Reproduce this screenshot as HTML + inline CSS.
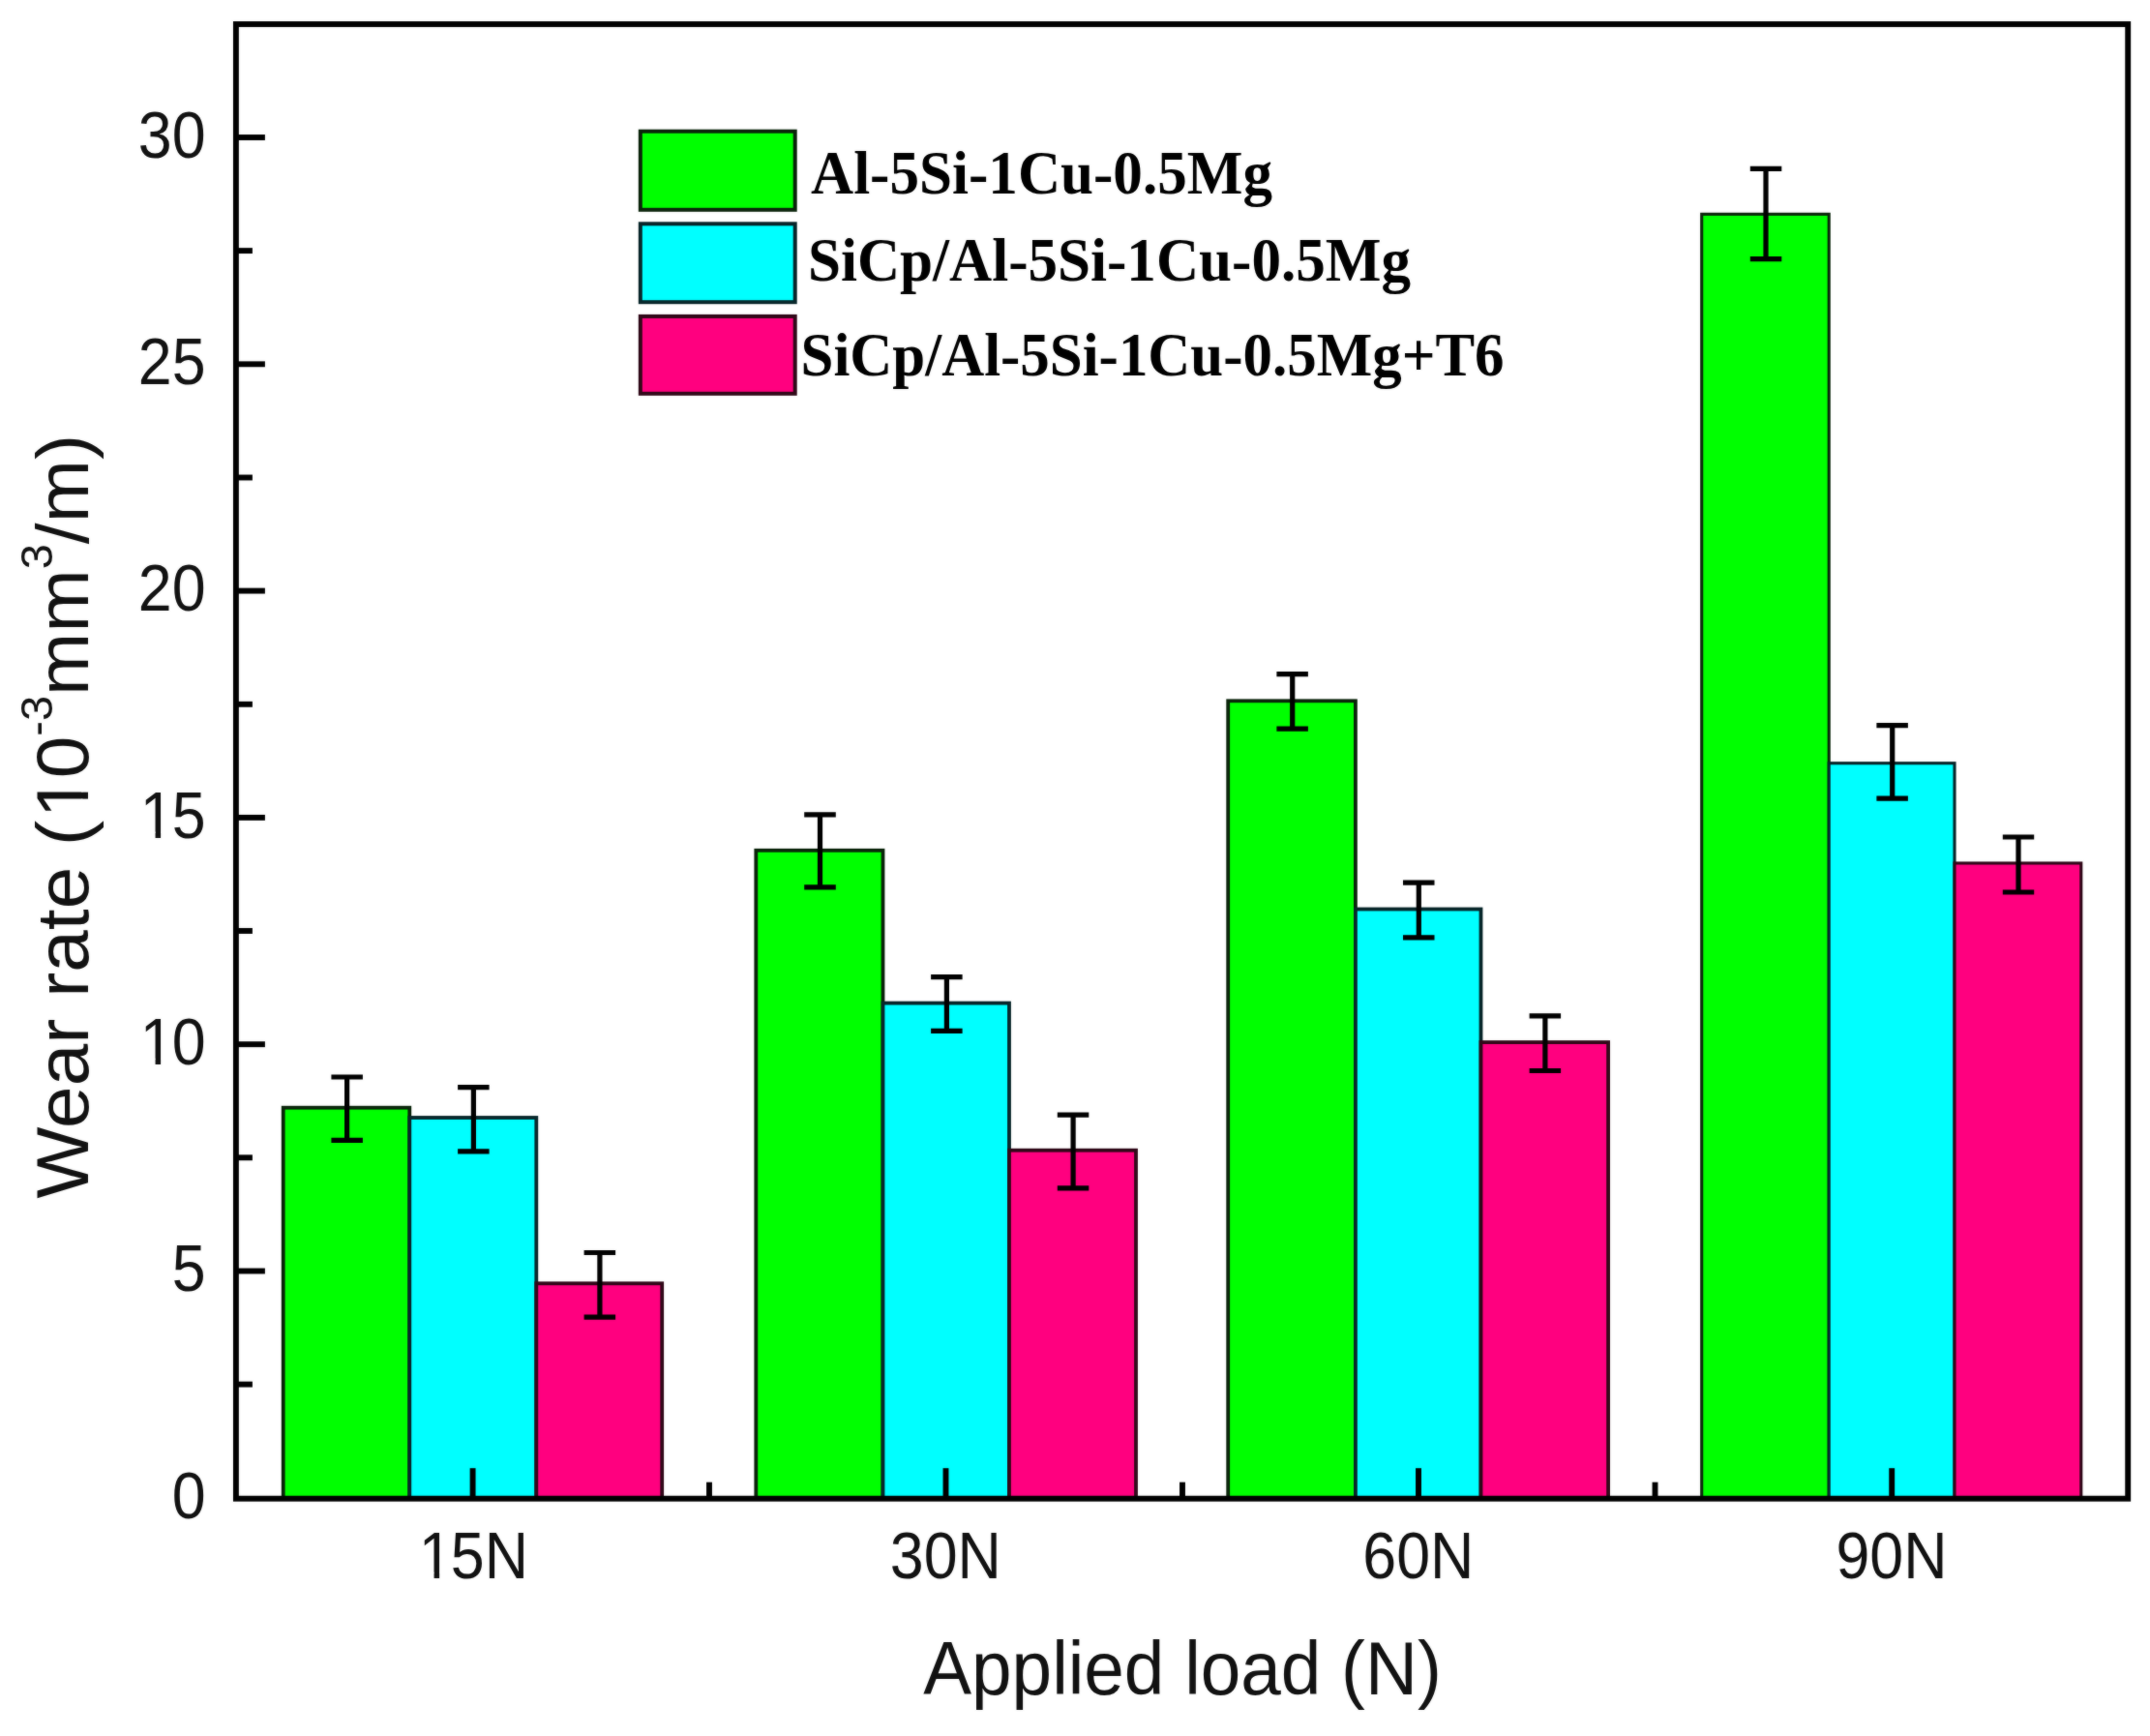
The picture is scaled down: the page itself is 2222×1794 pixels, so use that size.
<!DOCTYPE html>
<html lang="en"><head><meta charset="utf-8"><title>Wear rate vs applied load</title>
<style>html,body{margin:0;padding:0;background:#fff}body{width:2222px;height:1794px;overflow:hidden}svg{display:block}</style>
</head><body>
<svg width="2222" height="1794" viewBox="0 0 2222 1794">
<defs><filter id="soft" color-interpolation-filters="sRGB" x="0" y="0" width="2222" height="1794" filterUnits="userSpaceOnUse"><feGaussianBlur in="SourceGraphic" stdDeviation="0.9" result="b"/><feComposite in="SourceGraphic" in2="b" operator="arithmetic" k1="0" k2="0.7" k3="0.3" k4="0"/></filter></defs>
<g filter="url(#soft)">
<rect x="0" y="0" width="2222" height="1794" fill="#ffffff"/>
<g id="bars" stroke="#061006" stroke-width="3.8" stroke-linejoin="miter">
<rect x="292.7" y="1144.7" width="130.6" height="404.0" fill="#00ff00" stroke="#0a240a"/>
<rect x="423.3" y="1155.0" width="131.0" height="393.7" fill="#00ffff" stroke="#08262a"/>
<rect x="554.3" y="1326.3" width="129.9" height="222.4" fill="#ff007f" stroke="#300818"/>
<rect x="781.3" y="878.8" width="131.2" height="669.9" fill="#00ff00" stroke="#0a240a"/>
<rect x="912.5" y="1036.6" width="130.5" height="512.1" fill="#00ffff" stroke="#08262a"/>
<rect x="1043.0" y="1188.7" width="131.0" height="360.0" fill="#ff007f" stroke="#300818"/>
<rect x="1269.2" y="724.3" width="131.7" height="824.4" fill="#00ff00" stroke="#0a240a"/>
<rect x="1400.9" y="939.5" width="129.6" height="609.2" fill="#00ffff" stroke="#08262a"/>
<rect x="1530.5" y="1077.1" width="131.6" height="471.6" fill="#ff007f" stroke="#300818"/>
<rect x="1758.7" y="221.3" width="131.5" height="1327.4" fill="#00ff00" stroke="#0a240a" stroke-width="3.1"/>
<rect x="1890.2" y="788.7" width="129.8" height="760.0" fill="#00ffff" stroke="#08262a" stroke-width="3.1"/>
<rect x="2020.0" y="892.0" width="130.8" height="656.7" fill="#ff007f" stroke="#300818" stroke-width="3.1"/>
</g>
<rect x="243.9" y="25.0" width="1955.3" height="1523.7" fill="none" stroke="#000" stroke-width="5.9"/>
<g id="ticks" stroke="#000" stroke-width="5.9" stroke-linecap="butt">
<line x1="243.9" y1="1313.5" x2="273.9" y2="1313.5"/>
<line x1="243.9" y1="1079.2" x2="273.9" y2="1079.2"/>
<line x1="243.9" y1="844.9" x2="273.9" y2="844.9"/>
<line x1="243.9" y1="610.6" x2="273.9" y2="610.6"/>
<line x1="243.9" y1="376.3" x2="273.9" y2="376.3"/>
<line x1="243.9" y1="142.0" x2="273.9" y2="142.0"/>
<line x1="243.9" y1="1430.6" x2="260.9" y2="1430.6"/>
<line x1="243.9" y1="1196.3" x2="260.9" y2="1196.3"/>
<line x1="243.9" y1="962.0" x2="260.9" y2="962.0"/>
<line x1="243.9" y1="727.8" x2="260.9" y2="727.8"/>
<line x1="243.9" y1="493.5" x2="260.9" y2="493.5"/>
<line x1="243.9" y1="259.1" x2="260.9" y2="259.1"/>
<line x1="488.6" y1="1548.7" x2="488.6" y2="1517.2"/>
<line x1="977.5" y1="1548.7" x2="977.5" y2="1517.2"/>
<line x1="1466.0" y1="1548.7" x2="1466.0" y2="1517.2"/>
<line x1="1955.2" y1="1548.7" x2="1955.2" y2="1517.2"/>
<line x1="733.0" y1="1548.7" x2="733.0" y2="1531.7"/>
<line x1="1222.0" y1="1548.7" x2="1222.0" y2="1531.7"/>
<line x1="1710.5" y1="1548.7" x2="1710.5" y2="1531.7"/>
</g>
<g id="err" stroke="#000" stroke-width="5.2" fill="none">
<path d="M342.4 1113.0H374.9M342.4 1178.3H374.9M358.6 1113.0V1178.3"/>
<path d="M473.1 1123.6H505.6M473.1 1189.9H505.6M489.4 1123.6V1189.9"/>
<path d="M603.6 1294.5H636.1M603.6 1361.2H636.1M619.9 1294.5V1361.2"/>
<path d="M831.2 841.9H863.8M831.2 916.8H863.8M847.5 841.9V916.8"/>
<path d="M962.1 1009.6H994.6M962.1 1065.4H994.6M978.4 1009.6V1065.4"/>
<path d="M1092.8 1152.1H1125.3M1092.8 1227.9H1125.3M1109.1 1152.1V1227.9"/>
<path d="M1319.4 696.7H1351.9M1319.4 753.1H1351.9M1335.7 696.7V753.1"/>
<path d="M1450.0 912.1H1482.5M1450.0 968.8H1482.5M1466.3 912.1V968.8"/>
<path d="M1580.6 1049.8H1613.1M1580.6 1106.5H1613.1M1596.9 1049.8V1106.5"/>
<path d="M1808.8 174.3H1841.3M1808.8 267.7H1841.3M1825.0 174.3V267.7"/>
<path d="M1939.4 749.7H1971.9M1939.4 825.2H1971.9M1955.7 749.7V825.2"/>
<path d="M2069.8 865.0H2102.2M2069.8 922.0H2102.2M2086.0 865.0V922.0"/>
</g>
<g id="legend" stroke="#0c1a0c" stroke-width="4">
<rect x="661.8" y="135.7" width="159.9" height="81.1" fill="#00ff00" stroke="#0a240a"/>
<rect x="661.8" y="231.3" width="159.9" height="80.9" fill="#00ffff" stroke="#08262a"/>
<rect x="661.8" y="326.9" width="159.9" height="79.9" fill="#ff007f" stroke="#300818"/>
</g>
<g font-family="'Liberation Serif', 'Times New Roman', serif" font-weight="bold" font-size="64" fill="#000">
<text id="lg1" x="838" y="200.2" textLength="477" lengthAdjust="spacingAndGlyphs">Al-5Si-1Cu-0.5Mg</text>
<text id="lg2" x="835" y="290.2" textLength="623" lengthAdjust="spacingAndGlyphs">SiCp/Al-5Si-1Cu-0.5Mg</text>
<text id="lg3" x="827.5" y="388.4" textLength="727" lengthAdjust="spacingAndGlyphs">SiCp/Al-5Si-1Cu-0.5Mg+T6</text>
</g>
<g font-family="'Liberation Sans', Arial, sans-serif" font-size="65" fill="#111">
<g transform="translate(212.6 1568.6) scale(0.965 1.045)"><text class="yl" x="0" y="0" text-anchor="end">0</text></g>
<g transform="translate(212.6 1334.3) scale(0.965 1.045)"><text class="yl" x="0" y="0" text-anchor="end">5</text></g>
<g transform="translate(212.6 1100.0) scale(0.965 1.045)"><text class="yl" x="-70.28 -36.13" y="0">10</text><rect x="-66.83" y="-5.86" width="12.89" height="7.36" fill="#fff"/><rect x="-48.19" y="-5.86" width="12.39" height="7.36" fill="#fff"/></g>
<g transform="translate(212.6 865.7) scale(0.965 1.045)"><text class="yl" x="-70.28 -36.13" y="0">15</text><rect x="-66.83" y="-5.86" width="12.89" height="7.36" fill="#fff"/><rect x="-48.19" y="-5.86" width="12.39" height="7.36" fill="#fff"/></g>
<g transform="translate(212.6 631.4) scale(0.965 1.045)"><text class="yl" x="0" y="0" text-anchor="end">20</text></g>
<g transform="translate(212.6 397.1) scale(0.965 1.045)"><text class="yl" x="0" y="0" text-anchor="end">25</text></g>
<g transform="translate(212.6 162.8) scale(0.965 1.045)"><text class="yl" x="0" y="0" text-anchor="end">30</text></g>
<g transform="translate(488.40000000000003 1630.9) scale(0.965 1.045)"><text class="xl" x="-57.61 -23.46 12.69" y="0">15N</text><rect x="-54.16" y="-5.86" width="12.89" height="7.36" fill="#fff"/><rect x="-35.52" y="-5.86" width="12.39" height="7.36" fill="#fff"/></g>
<g transform="translate(977.3 1630.9) scale(0.965 1.045)"><text class="xl" x="0" y="0" text-anchor="middle">30N</text></g>
<g transform="translate(1465.8 1630.9) scale(0.965 1.045)"><text class="xl" x="0" y="0" text-anchor="middle">60N</text></g>
<g transform="translate(1955.0 1630.9) scale(0.965 1.045)"><text class="xl" x="0" y="0" text-anchor="middle">90N</text></g>
</g>
<g font-family="'Liberation Sans', Arial, sans-serif" fill="#111">
<text id="xt" font-size="74.7" transform="translate(1222.0 1751) scale(1 1.04)" x="0" y="0" text-anchor="middle">Applied load (N)</text>
<g transform="translate(91 1238.5) rotate(-90) scale(1 0.965)"><text id="yt" font-size="78.4" x="0" y="0">Wear rate (<tspan x="393.20">1</tspan><tspan x="434.22">0</tspan><tspan font-size="47" dy="-38">-3</tspan><tspan dy="38">mm</tspan><tspan font-size="47" dy="-38">3</tspan><tspan dy="38">/m)</tspan></text><rect x="397.67" y="-6.86" width="15.24" height="8.36" fill="#fff"/><rect x="419.85" y="-6.86" width="14.63" height="8.36" fill="#fff"/></g>
</g>
</g>
</svg>
</body></html>
